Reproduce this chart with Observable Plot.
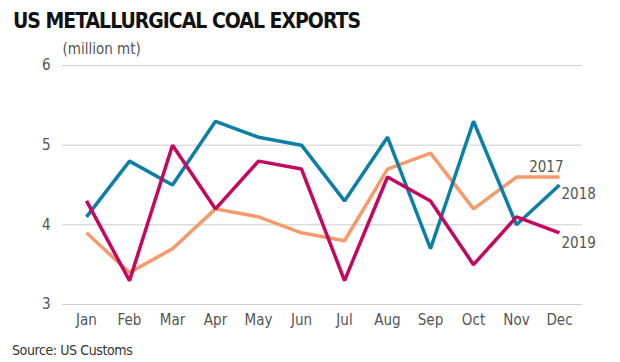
<!DOCTYPE html>
<html><head><meta charset="utf-8">
<script src="https://cdn.jsdelivr.net/npm/d3@7"></script>
<script src="https://cdn.jsdelivr.net/npm/@observablehq/plot@0.6"></script>
<style>
body{margin:0;background:#fff;font-family:"DejaVu Sans Condensed",Roboto,sans-serif;}
#wrap{width:620px;height:362px;position:relative;overflow:hidden}
#title{position:absolute;left:13px;top:9px;font-size:21px;font-weight:bold;color:#111;letter-spacing:-1px}
#chart{position:absolute;left:0;top:38px}
#src{position:absolute;left:12px;top:342px;font-size:14px;color:#333;letter-spacing:-0.4px}
</style></head>
<body><div id="wrap">
<div id="title">US METALLURGICAL COAL EXPORTS</div>
<div id="chart"></div>
<div id="src">Source: US Customs</div>
</div>
<script>
const months = ["Jan","Feb","Mar","Apr","May","Jun","Jul","Aug","Sep","Oct","Nov","Dec"];
const years = ["2017","2018","2019"];
const v2017 = [3.9,3.4,3.7,4.2,4.1,3.9,3.8,4.7,4.9,4.2,4.6,4.6];
const v2018 = [4.1,4.8,4.5,5.3,5.1,5.0,4.3,5.1,3.7,5.3,4.0,4.5];
const v2019 = [4.3,3.3,5.0,4.2,4.8,4.7,3.3,4.6,4.3,3.5,4.1,3.9];
const yTicks = [3,4,5,6];
const colors = {"2017":"#f79a6b","2018":"#0b7fa7","2019":"#c4075f"};

const series = {"2017":v2017,"2018":v2018,"2019":v2019};
const data = years.flatMap(y => months.map((m,i)=>({year:y, month:m, value:series[y][i]})));
const ends = years.map(y => ({year:y, month:months[11], value:series[y][11]}));
const labelOffsets = {"2017":{dx:4,dy:-10,anchor:"end"},"2018":{dx:2,dy:9,anchor:"start"},"2019":{dx:2,dy:10,anchor:"start"}};

const plot = Plot.plot({
  width:620, height:300,
  marginTop:27, marginBottom:34, marginLeft:62, marginRight:38,
  style:{fontFamily:'"DejaVu Sans Condensed",Roboto,sans-serif', fontSize:"15px", color:"#555", background:"#fff"},
  x:{type:"point", domain:months, padding:0.5, label:null},
  y:{domain:[3,6], ticks:yTicks, label:null},
  marks:[
    Plot.gridY(yTicks,{stroke:"#ccc", strokeOpacity:1, strokeWidth:1}),
    Plot.axisY(yTicks,{tickSize:0, tickPadding:12, fontSize:15, fill:"#555", label:null, tickFormat:"d"}),
    Plot.axisX({tickSize:0, tickPadding:10, fontSize:15, fill:"#555", label:null}),
    Plot.text(["(million mt)"],{frameAnchor:"top-left", dy:-22, dx:0, fontSize:15, fill:"#555", textAnchor:"start"}),
    ...years.map(y => Plot.line(data.filter(d=>d.year===y),{x:"month", y:"value", stroke:colors[y], strokeWidth:3.5, strokeLinejoin:"miter", strokeLinecap:"butt"})),
    ...years.map(y => Plot.text(ends.filter(d=>d.year===y),{x:"month", y:"value", text:d=>d.year, dx:labelOffsets[y].dx, dy:labelOffsets[y].dy, textAnchor:labelOffsets[y].anchor, fontSize:15, fill:"#555"}))
  ]
});
document.getElementById("chart").appendChild(plot);
</script>
</body></html>
